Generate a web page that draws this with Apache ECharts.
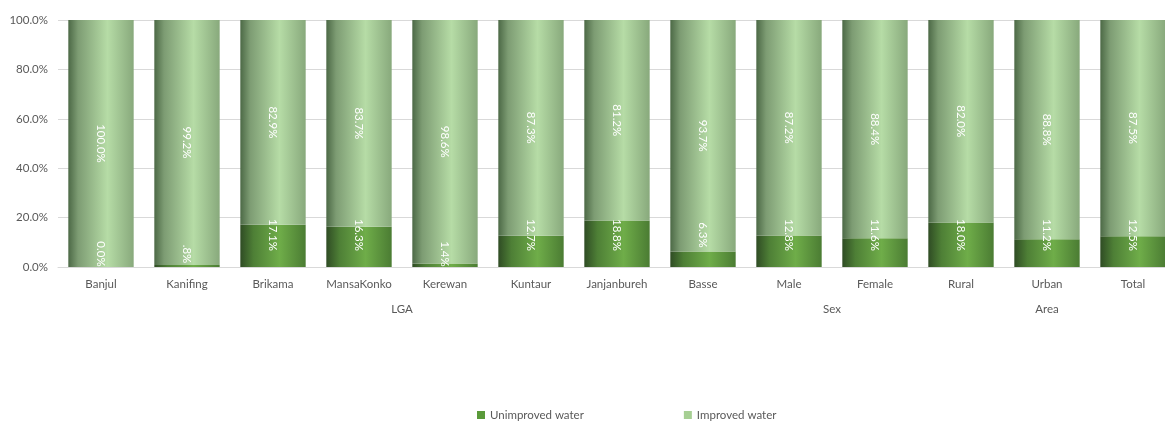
<!DOCTYPE html>
<html>
<head>
<meta charset="utf-8">
<script src="https://cdn.jsdelivr.net/npm/echarts@6/dist/echarts.min.js"></script>
<style>html,body{margin:0;padding:0;background:#fff;}#c{width:1165px;height:421px;}</style>
</head>
<body>
<div id="c"></div>
<script>
const categories = ['Banjul','Kanifing','Brikama','MansaKonko','Kerewan','Kuntaur','Janjanbureh','Basse','Male','Female','Rural','Urban','Total'];
const unimproved = [0.0, 0.8, 17.1, 16.3, 1.4, 12.7, 18.8, 6.3, 12.8, 11.6, 18.0, 11.2, 12.5];
const improved = [100.0, 99.2, 82.9, 83.7, 98.6, 87.3, 81.2, 93.7, 87.2, 88.4, 82.0, 88.8, 87.5];
const unimprovedLabels = ['0.0%', '.8%', '17.1%', '16.3%', '1.4%', '12.7%', '18.8%', '6.3%', '12.8%', '11.6%', '18.0%', '11.2%', '12.5%'];
const groupNames = ['LGA', 'Sex', 'Area'];
const groupSizes = [8, 2, 3];
const yTicks = [0, 20, 40, 60, 80, 100];

const FONT = 'Lato';
const grey = '#595959';

// group centres in category units
const groupCenters = [];
let acc = 0;
groupSizes.forEach(s => { groupCenters.push(acc + s / 2); acc += s; });

function grad(stops) {
  return new echarts.graphic.LinearGradient(0, 0, 1, 0, stops.map(s => ({offset: s[0], color: s[1]})));
}
const gImp = grad([[0, '#4c6946'], [0.15, '#7d9c73'], [0.6, '#b6dca6'], [1, '#88a97c']]);
const gUn = grad([[0, '#2f4c24'], [0.2, '#4e7f36'], [0.6, '#6fad49'], [1, '#4b7c33']]);

const unData = unimproved.map((v, i) => ({
  value: v,
  label: { distance: v < 5 ? 13 : 32, formatter: unimprovedLabels[i] }
}));

const chart = echarts.init(document.getElementById('c'));
chart.setOption({
  animation: false,
  textStyle: { fontFamily: FONT },
  grid: { left: 58, top: 20, width: 1118, height: 247, containLabel: false, outerBoundsMode: 'none' },
  legend: {
    top: 404,
    left: 472,
    itemWidth: 8,
    itemHeight: 8,
    itemGap: 100,
    icon: 'rect',
    textStyle: { color: grey, fontSize: 11.5, fontFamily: FONT },
    data: [
      { name: 'Unimproved water', itemStyle: { color: '#5a9a3a' } },
      { name: 'Improved water', itemStyle: { color: '#a6cf93' } }
    ]
  },
  xAxis: [
    {
      type: 'category',
      data: categories,
      axisLine: { lineStyle: { color: '#d9d9d9' } },
      axisTick: { show: false },
      axisLabel: { color: grey, fontSize: 11.5, margin: 11, fontFamily: FONT }
    },
    {
      type: 'value',
      min: 0,
      max: categories.length,
      position: 'bottom',
      axisLine: { show: false },
      axisTick: { show: false },
      splitLine: { show: false },
      axisLabel: {
        color: grey, fontSize: 11.5, margin: 36, fontFamily: FONT,
        customValues: groupCenters,
        formatter: v => { const k = groupCenters.indexOf(v); return k >= 0 ? groupNames[k] : ''; }
      }
    }
  ],
  yAxis: {
    type: 'value',
    min: 0, max: 100, interval: 20,
    axisLine: { show: false },
    axisTick: { show: false },
    splitLine: { lineStyle: { color: '#d9d9d9' } },
    axisLabel: { color: grey, fontSize: 11.5, margin: 10, fontFamily: FONT, formatter: v => v.toFixed(1) + '%' }
  },
  series: [
    {
      name: 'Unimproved water',
      type: 'bar',
      stack: 'a',
      barWidth: '76%',
      data: unData,
      itemStyle: { color: gUn },
      label: {
        show: true, position: 'insideBottom', rotate: -90,
        align: 'center', verticalAlign: 'middle',
        color: '#fff', fontSize: 11.5, fontFamily: FONT
      }
    },
    {
      name: 'Improved water',
      type: 'bar',
      stack: 'a',
      barWidth: '76%',
      data: improved,
      itemStyle: { color: gImp },
      label: {
        show: true, position: 'inside', rotate: -90,
        align: 'center', verticalAlign: 'middle',
        color: '#fff', fontSize: 11.5, fontFamily: FONT,
        formatter: p => p.value.toFixed(1) + '%'
      }
    }
  ]
});
</script>
</body>
</html>
